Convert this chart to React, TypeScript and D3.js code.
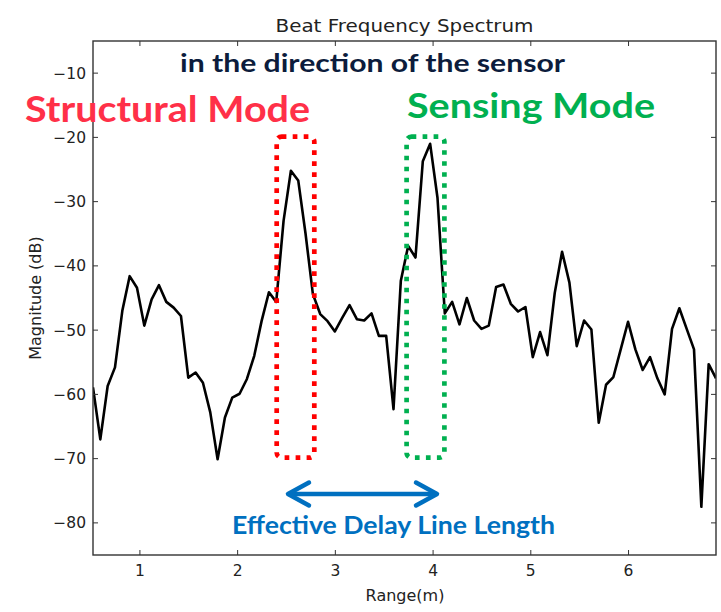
import React from "react";
import * as d3 from "d3";

const ranges = [
  0.52, 0.595, 0.67, 0.745, 0.82, 0.895, 0.97, 1.045, 1.12, 1.195,
  1.27, 1.345, 1.42, 1.495, 1.57, 1.645, 1.72, 1.795, 1.87, 1.945,
  2.02, 2.095, 2.17, 2.245, 2.32, 2.395, 2.47, 2.545, 2.62, 2.695,
  2.77, 2.845, 2.92, 2.995, 3.07, 3.145, 3.22, 3.295, 3.37, 3.445,
  3.52, 3.595, 3.67, 3.745, 3.82, 3.895, 3.97, 4.045, 4.12, 4.195,
  4.27, 4.345, 4.42, 4.495, 4.57, 4.645, 4.72, 4.795, 4.87, 4.945,
  5.02, 5.095, 5.17, 5.245, 5.32, 5.395, 5.47, 5.545, 5.62, 5.695,
  5.77, 5.845, 5.92, 5.995, 6.07, 6.145, 6.22, 6.295, 6.37, 6.445,
  6.52, 6.595, 6.67, 6.745, 6.82, 6.895,
];

const magnitudes = [
  -58.9, -67.0, -58.7, -55.8, -47.0, -41.6, -43.4, -49.3, -45.2, -43.0,
  -45.6, -46.5, -47.8, -57.4, -56.6, -58.2, -62.8, -70.1, -63.6, -60.5,
  -59.9, -57.6, -54.0, -48.6, -44.1, -45.6, -33.0, -25.2, -26.7, -35.0,
  -44.4, -47.5, -48.6, -50.2, -48.1, -46.1, -48.3, -48.5, -47.4, -50.9,
  -50.9, -62.3, -42.3, -36.9, -38.7, -23.7, -21.0, -29.4, -47.4, -45.6,
  -49.1, -45.0, -48.5, -49.8, -49.3, -43.3, -42.9, -45.9, -47.1, -46.4,
  -54.2, -50.3, -53.9, -44.2, -37.8, -42.6, -52.5, -48.5, -49.9, -64.4,
  -58.5, -57.3, -53.0, -48.7, -53.0, -56.2, -54.2, -57.5, -60.0, -49.8,
  -46.6, -49.8, -53.0, -77.5, -55.3, -57.5,
];

const xTicks = [1, 2, 3, 4, 5, 6];
const yTicks = [-80, -70, -60, -50, -40, -30, -20, -10];

const W = 721;
const H = 612;
const left = 93;
const right = 716;
const top = 41;
const bottom = 555;

export default function App() {
  const x = d3.scaleLinear().domain([0.52, 6.895]).range([left, right]);
  const y = d3.scaleLinear().domain([-85, -5]).range([bottom, top]);
  const line = d3
    .line<number>()
    .x((_, i) => x(ranges[i]))
    .y((d) => y(d));
  const path = line(magnitudes) || "";
  const fmt = (v: number) => (v < 0 ? "\u2212" + Math.abs(v) : String(v));
  const tickFont = "DejaVu Sans, sans-serif";
  const boldFont = "Lato, 'Open Sans', sans-serif";
  const tl = 5;

  return (
    <svg
      width={W}
      height={H}
      style={{ position: "absolute", left: 0, top: 0, background: "#fff" }}
    >
      <rect x={0} y={0} width={W} height={H} fill="#fff" />
      <text
        x={(left + right) / 2}
        y={32}
        textAnchor="middle"
        fontFamily={tickFont}
        fontSize={18}
        fill="#222"
        textLength={258}
        lengthAdjust="spacingAndGlyphs"
      >
        Beat Frequency Spectrum
      </text>

      <clipPath id="plotclip">
        <rect x={left} y={top} width={right - left} height={bottom - top} />
      </clipPath>
      <path
        d={path}
        fill="none"
        stroke="#000"
        strokeWidth={2.6}
        strokeLinejoin="round"
        clipPath="url(#plotclip)"
      />

      {/* frame */}
      <rect
        x={left}
        y={top}
        width={right - left}
        height={bottom - top}
        fill="none"
        stroke="#333"
        strokeWidth={1.4}
      />
      {xTicks.map((t) => (
        <g key={"x" + t}>
          <line x1={x(t)} x2={x(t)} y1={bottom} y2={bottom - tl} stroke="#333" strokeWidth={1} />
          <line x1={x(t)} x2={x(t)} y1={top} y2={top + tl} stroke="#333" strokeWidth={1} />
          <text
            x={x(t)}
            y={576}
            textAnchor="middle"
            fontFamily={tickFont}
            fontSize={15.5}
            fill="#222"
          >
            {fmt(t)}
          </text>
        </g>
      ))}
      {yTicks.map((t) => (
        <g key={"y" + t}>
          <line x1={left} x2={left + tl} y1={y(t)} y2={y(t)} stroke="#333" strokeWidth={1} />
          <line x1={right} x2={right - tl} y1={y(t)} y2={y(t)} stroke="#333" strokeWidth={1} />
          <text
            x={86}
            y={y(t) + 5.5}
            textAnchor="end"
            fontFamily={tickFont}
            fontSize={15.5}
            fill="#222"
          >
            {fmt(t)}
          </text>
        </g>
      ))}
      <text
        x={405}
        y={601}
        textAnchor="middle"
        fontFamily={tickFont}
        fontSize={16}
        fill="#222"
      >
        Range(m)
      </text>
      <text
        transform={`translate(41, 298) rotate(-90)`}
        textAnchor="middle"
        fontFamily={tickFont}
        fontSize={16}
        fill="#222"
      >
        Magnitude (dB)
      </text>

      {/* annotations */}
      <text
        x={180}
        y={72}
        fontFamily={boldFont}
        fontWeight={700}
        fontSize={24}
        fill="#0c1c3c"
        textLength={385}
        lengthAdjust="spacingAndGlyphs"
      >
        in the direction of the sensor
      </text>
      <text
        x={25}
        y={122}
        fontFamily={boldFont}
        fontWeight={700}
        fontSize={37}
        fill="#ff3048"
        textLength={285}
        lengthAdjust="spacingAndGlyphs"
      >
        Structural Mode
      </text>
      <text
        x={407}
        y={118}
        fontFamily={boldFont}
        fontWeight={700}
        fontSize={35}
        fill="#00b050"
        textLength={248}
        lengthAdjust="spacingAndGlyphs"
      >
        Sensing Mode
      </text>

      <rect
        x={276.7}
        y={136.6}
        width={314.3 - 276.7}
        height={457.7 - 136.6}
        rx={5}
        fill="none"
        stroke="#ff0000"
        strokeWidth={4.7}
        strokeDasharray="4.7 6.3"
      />
      <rect
        x={406.6}
        y={136.6}
        width={444.4 - 406.6}
        height={457.7 - 136.6}
        rx={5}
        fill="none"
        stroke="#00b050"
        strokeWidth={4.7}
        strokeDasharray="4.7 6.3"
      />

      <g stroke="#0070c0" strokeWidth={4.5} strokeLinecap="round" strokeLinejoin="round" fill="none">
        <line x1={289} x2={436} y1={494} y2={494} />
        <polyline points="309,482.5 288,494 309,505.5" />
        <polyline points="416,482.5 437,494 416,505.5" />
      </g>
      <text
        x={232}
        y={534}
        fontFamily={boldFont}
        fontWeight={700}
        fontSize={25}
        fill="#0070c0"
        textLength={323}
        lengthAdjust="spacingAndGlyphs"
      >
        Effective Delay Line Length
      </text>
    </svg>
  );
}
